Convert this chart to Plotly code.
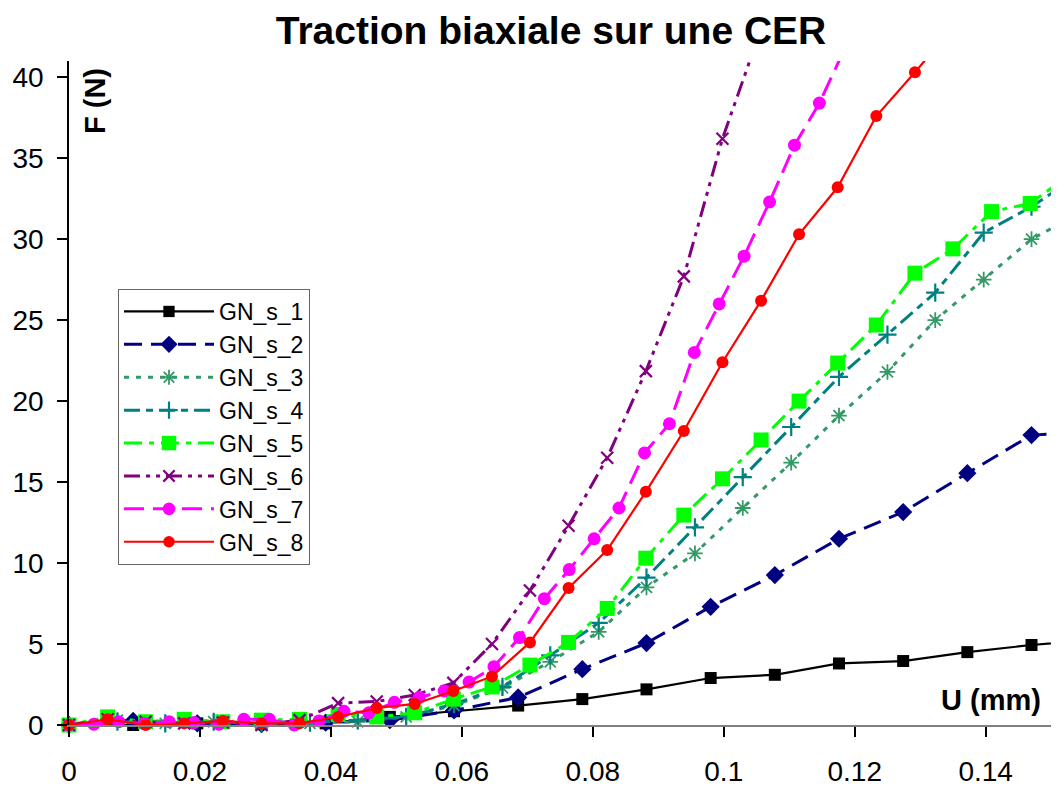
import plotly.graph_objects as go

# ---------------- data ----------------
TITLE = "Traction biaxiale sur une CER"
X_LABEL = "U (mm)"
Y_LABEL = "F (N)"
X_TICKS = [0, 0.02, 0.04, 0.06, 0.08, 0.1, 0.12, 0.14]
X_TICK_TEXT = ["0", "0.02", "0.04", "0.06", "0.08", "0.1", "0.12", "0.14"]
Y_TICKS = [0, 5, 10, 15, 20, 25, 30, 35, 40]
X_MAX = 0.1512
Y_MAX = 41.0

x_s1 = [0, 0.0098, 0.0196, 0.0294, 0.0392, 0.049, 0.0588, 0.0686, 0.0784, 0.0882,
        0.098, 0.1078, 0.1176, 0.1274, 0.1372, 0.147, 0.1568]
y_s1 = [0, 0.0, 0.1, 0.05, 0.1, 0.5, 0.85, 1.2, 1.6, 2.2, 2.9, 3.1, 3.8, 3.95, 4.5, 4.94, 5.25]

x_s2 = [0, 0.0098, 0.0196, 0.0294, 0.0392, 0.049, 0.0588, 0.0686, 0.0784, 0.0882,
        0.098, 0.1078, 0.1176, 0.1274, 0.1372, 0.147, 0.1568]
y_s2 = [0, 0.25, 0.1, 0.05, 0.15, 0.3, 0.9, 1.7, 3.45, 5.06, 7.3, 9.26, 11.5, 13.15, 15.55, 17.9, 18.1]

x_s3 = [0, 0.0074, 0.0147, 0.0221, 0.0294, 0.0368, 0.0441, 0.0515, 0.0588, 0.0662, 0.0735,
        0.0809, 0.0882, 0.0956, 0.1029, 0.1103, 0.1176, 0.125, 0.1323, 0.1397, 0.147, 0.1544]
y_s3 = [0, 0.3, 0.1, 0.2, 0.1, 0.1, 0.2, 0.5, 1.2, 2.3, 3.9, 5.75, 8.5, 10.6, 13.4, 16.2,
        19.1, 21.8, 25.0, 27.5, 30.0, 31.6]

x_s4 = [0, 0.0074, 0.0147, 0.0221, 0.0294, 0.0368, 0.0441, 0.0515, 0.0588, 0.0662, 0.0735,
        0.0809, 0.0882, 0.0956, 0.1029, 0.1103, 0.1176, 0.125, 0.1323, 0.1397, 0.147, 0.1544]
y_s4 = [0, 0.2, 0.1, 0.2, 0.1, 0.15, 0.3, 0.5, 1.3, 2.35, 4.3, 6.3, 9.1, 12.2, 15.3, 18.4,
        21.5, 24.1, 26.7, 30.4, 32.0, 34.0]

x_s5 = [0, 0.0059, 0.0117, 0.0176, 0.0235, 0.0294, 0.0352, 0.0411, 0.047, 0.0528, 0.0587,
        0.0646, 0.0704, 0.0763, 0.0822, 0.0881, 0.0939, 0.0998, 0.1057, 0.1115, 0.1174,
        0.1233, 0.1292, 0.135, 0.1409, 0.1468, 0.1526]
y_s5 = [0, 0.5, 0.2, 0.35, 0.2, 0.3, 0.35, 0.65, 0.5, 0.75, 1.6, 2.35, 3.7, 5.1, 7.2, 10.3,
        12.96, 15.2, 17.6, 20.0, 22.35, 24.7, 27.9, 29.4, 31.7, 32.2, 33.9]

x_s6 = [0, 0.0059, 0.0117, 0.0176, 0.0235, 0.0294, 0.0352, 0.0411, 0.047, 0.0528, 0.0587,
        0.0646, 0.0704, 0.0763, 0.0822, 0.0881, 0.0939, 0.0998, 0.1057]
y_s6 = [0, 0.35, 0.2, 0.1, 0.15, 0.0, 0.3, 1.35, 1.45, 1.85, 2.6, 5.0, 8.3, 12.3, 16.5,
        21.85, 27.7, 36.2, 43.0]

x_s7 = [0, 0.0038, 0.0076, 0.0115, 0.0153, 0.0191, 0.0229, 0.0267, 0.0306, 0.0344, 0.0382,
        0.042, 0.0458, 0.0497, 0.0535, 0.0573, 0.0611, 0.0649, 0.0688, 0.0726, 0.0764,
        0.0802, 0.084, 0.0879, 0.0917, 0.0955, 0.0993, 0.1031, 0.107, 0.1108, 0.1146, 0.1184]
y_s7 = [0, 0.05, 0.2, 0.1, 0.2, 0.15, 0.05, 0.35, 0.35, 0.0, 0.25, 0.85, 0.75, 1.4, 1.7,
        2.1, 2.65, 3.6, 5.4, 7.8, 9.6, 11.5, 13.4, 16.8, 18.6, 23.0, 26.0, 28.95, 32.3,
        35.8, 38.4, 41.7]

x_s8 = [0, 0.0059, 0.0117, 0.0176, 0.0235, 0.0294, 0.0352, 0.0411, 0.047, 0.0528, 0.0587,
        0.0646, 0.0704, 0.0763, 0.0822, 0.0881, 0.0939, 0.0998, 0.1057, 0.1115, 0.1174,
        0.1233, 0.1292, 0.135]
y_s8 = [0, 0.35, 0.0, 0.1, 0.25, 0.1, 0.1, 0.5, 1.05, 1.3, 2.1, 3.0, 5.1, 8.46, 10.8, 14.4,
        18.15, 22.4, 26.2, 30.3, 33.2, 37.6, 40.3, 43.1]

series_names = ["GN_s_1", "GN_s_2", "GN_s_3", "GN_s_4", "GN_s_5", "GN_s_6", "GN_s_7", "GN_s_8"]
series_x = [x_s1, x_s2, x_s3, x_s4, x_s5, x_s6, x_s7, x_s8]
series_y = [y_s1, y_s2, y_s3, y_s4, y_s5, y_s6, y_s7, y_s8]

# ---------------- styles ----------------
styles = [
    dict(color="#000000", dash="solid", width=2.2, symbol="square", size=12, mlw=0),
    dict(color="#000080", dash="18px,9px", width=3, symbol="diamond", size=14, mlw=0),
    dict(color="#339966", dash="5px,7px", width=3, symbol="asterisk-open", size=13, mlw=1.8),
    dict(color="#008080", dash="16px,6px,7px,6px", width=3, symbol="cross-thin-open", size=13, mlw=2.2),
    dict(color="#00FF00", dash="18px,7px,5px,7px", width=3, symbol="square", size=15, mlw=0),
    dict(color="#800080", dash="16px,6px,4px,6px,4px,6px", width=3, symbol="x-thin-open", size=12, mlw=2.2),
    dict(color="#FF00FF", dash="20px,9px", width=3, symbol="circle", size=13, mlw=0),
    dict(color="#FF0000", dash="solid", width=2.2, symbol="circle", size=12, mlw=0),
]

fig = go.Figure()
for name, xs, ys, st in zip(series_names, series_x, series_y, styles):
    sizes = [st["size"] if (x <= X_MAX and y <= Y_MAX) else 0 for x, y in zip(xs, ys)]
    fig.add_trace(go.Scatter(
        x=xs, y=ys, name=name, mode="lines+markers",
        cliponaxis=False,
        line=dict(color=st["color"], dash=st["dash"], width=st["width"]),
        marker=dict(symbol=st["symbol"], size=sizes, color=st["color"], opacity=1,
                    line=dict(color=st["color"], width=st["mlw"])),
    ))

FONT = "Liberation Sans, Arial, sans-serif"

# page body has an 8px margin: the figure is sized so it fits the 1059x787 window exactly
fig.update_layout(
    width=1051, height=779,
    margin=dict(l=61, r=0, t=53, b=62, autoexpand=False),
    paper_bgcolor="white", plot_bgcolor="white",
    font=dict(family=FONT, color="black", size=28),
    title=dict(text="<b>" + TITLE + "</b>", x=543 / 1051, xanchor="center",
               y=1 - 22 / 779, yanchor="middle", yref="container",
               font=dict(family=FONT, size=39, color="black")),
    showlegend=True,
    legend=dict(x=(118 - 69) / 990, y=(725 - 289) / 664, xanchor="left", yanchor="top",
                bgcolor="white", bordercolor="#666666", borderwidth=1,
                font=dict(family=FONT, size=23, color="black"),
                itemwidth=90, tracegroupgap=0),
    xaxis=dict(range=[0, X_MAX], tickmode="array", tickvals=X_TICKS, ticktext=X_TICK_TEXT,
               automargin=False,
               showgrid=False, zeroline=False, showline=True, linecolor="#808080", linewidth=2,
               ticks="outside", ticklen=10, tickwidth=1.5, tickcolor="black",
               tickfont=dict(family=FONT, size=28, color="black"), ticklabelstandoff=10),
    yaxis=dict(range=[0, Y_MAX], tickmode="array", tickvals=Y_TICKS,
               automargin=False,
               showgrid=False, zeroline=False, showline=True, linecolor="black", linewidth=1.5,
               ticks="outside", ticklen=10, tickwidth=1.5, tickcolor="black",
               tickfont=dict(family=FONT, size=28, color="black"), ticklabelstandoff=8),
    annotations=[
        dict(text="<b>" + Y_LABEL + "</b>", textangle=-90, xref="paper", yref="paper",
             x=(95 - 69) / 990, y=(725 - 101) / 664, xanchor="center", yanchor="middle",
             showarrow=False, font=dict(family=FONT, size=29, color="black")),
        dict(text="<b>" + X_LABEL + "</b>", xref="paper", yref="paper",
             x=(991 - 69) / 990, y=(725 - 700) / 664, xanchor="center", yanchor="middle",
             showarrow=False, font=dict(family=FONT, size=29, color="black")),
    ],
)

fig.write_html("out.html")
